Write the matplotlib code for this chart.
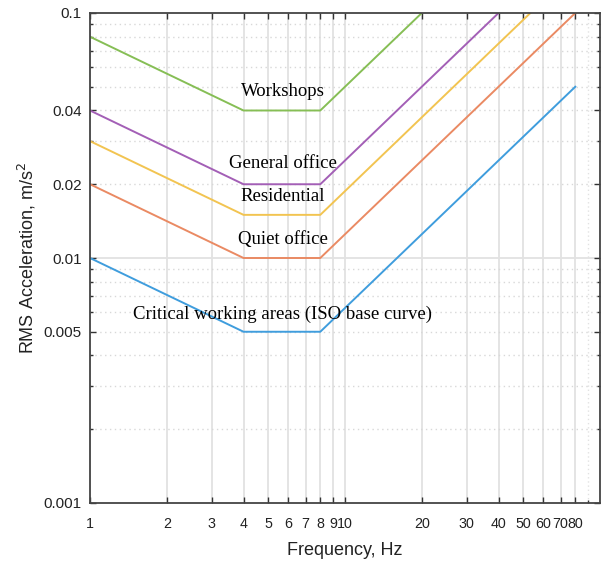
import matplotlib
matplotlib.use("Agg")
import matplotlib.pyplot as plt

# criteria curves: ISO base curve and multiplying factors
freq = [1, 4, 8, 80]
iso_base = [0.01, 0.005, 0.005, 0.05]
curves = [
    ("Critical working areas (ISO base curve)", 1, "#3f9ddd"),
    ("Quiet office", 2, "#ea8a63"),
    ("Residential", 3, "#f2c451"),
    ("General office", 4, "#a35fb6"),
    ("Workshops", 8, "#86be55"),
]
label_pos = {
    "Workshops": (5.7, 0.0478),
    "General office": (5.7, 0.0242),
    "Residential": (5.7, 0.0179),
    "Quiet office": (5.7, 0.0119),
    "Critical working areas (ISO base curve)": (5.7, 0.0059),
}

xticks = [1, 2, 3, 4, 5, 6, 7, 8, 9, 10, 20, 30, 40, 50, 60, 70, 80]
xticklabels = ["1", "2", "3", "4", "5", "6", "7", "8", "9", "10",
               "20", "30", "40", "50", "60", "70", "80"]
yticks = [0.001, 0.005, 0.01, 0.02, 0.04, 0.1]
yticklabels = ["0.001", "0.005", "0.01", "0.02", "0.04", "0.1"]

fig = plt.figure(figsize=(6.05, 5.66), dpi=100)
ax = fig.add_axes([90 / 605, 63 / 566, 510 / 605, 490 / 566])
ax.set_xscale("log")
ax.set_yscale("log")
ax.set_xlim(1, 100)
ax.set_ylim(0.001, 0.1)

# grid
for x in xticks:
    ax.axvline(x, color="#e2e2e2", lw=1.3, zorder=0)
ax.axvline(90, color="#e2e2e2", lw=1.0, ls=(0, (1, 2)), zorder=0)
ax.axhline(0.01, color="#e2e2e2", lw=1.3, zorder=0)
for dec in [0.001, 0.01]:
    for m in range(2, 10):
        ax.axhline(m * dec, color="#d8d8d8", lw=1.0, ls=(0, (1, 2.5)), zorder=0)

for name, factor, color in curves:
    ax.plot(freq, [factor * v for v in iso_base], color=color, lw=1.4,
            clip_on=True, zorder=2)
    tx, ty = label_pos[name]
    ax.text(tx, ty, name, ha="center", va="center", fontsize=13.5,
            family="Liberation Serif", color="black", zorder=3)

ax.set_xticks(xticks)
ax.set_xticklabels(xticklabels)
ax.set_xticks([90], minor=True)
ax.set_yticks(yticks)
ax.set_yticklabels(yticklabels)
ax.set_yticks([m * d for d in [0.001, 0.01] for m in range(2, 10)
               if round(m * d, 4) not in yticks], minor=True)
ax.tick_params(which="both", direction="in", top=True, right=True,
               labelsize=11, colors="#333333", labelcolor="#222222",
               length=4, width=1.0, pad=6)
ax.tick_params(axis="x", which="major", pad=10, labelsize=10.3)
ax.tick_params(which="minor", length=2.5)
for s in ax.spines.values():
    s.set_color("#444444")
    s.set_linewidth(1.3)

for lab in ax.get_xticklabels() + ax.get_yticklabels():
    lab.set_family("Liberation Sans")

ax.set_xlabel("Frequency, Hz", fontsize=13, family="Liberation Sans",
              color="#222222", labelpad=8)
ax.set_ylabel("RMS Acceleration, m/s$^2$", fontsize=13,
              family="Liberation Sans", color="#222222", labelpad=4)

fig.savefig("out.png", dpi=100)
